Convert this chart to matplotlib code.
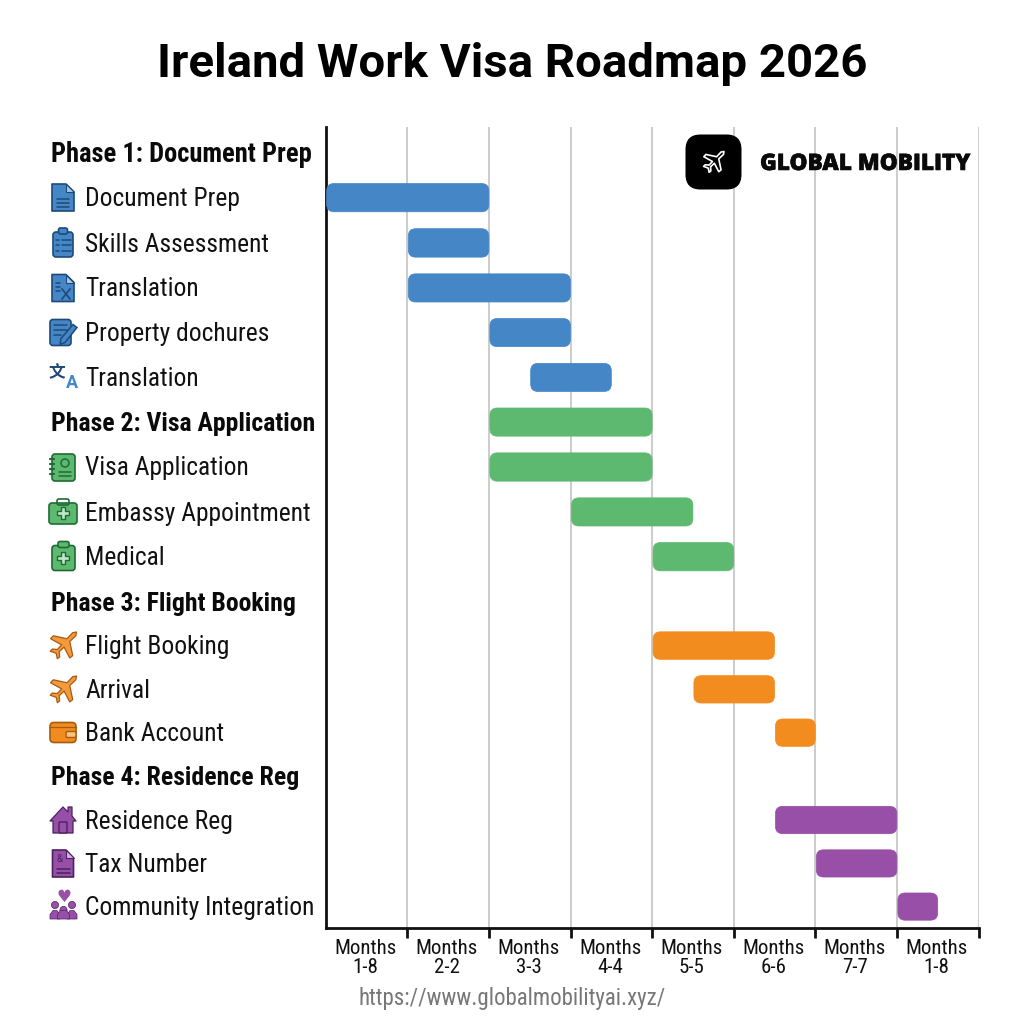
import numpy as np
import matplotlib
matplotlib.use("Agg")
import matplotlib.pyplot as plt
import matplotlib.patheffects as pe
from matplotlib.patches import FancyBboxPatch, Polygon, Circle
from matplotlib.ticker import NullLocator
from matplotlib import font_manager as fm

names = {f.name for f in fm.fontManager.ttflist}
FONT = next(n for n in ['Roboto Condensed', 'Barlow Semi Condensed', 'Sofia Sans Semi Condensed', 'Roboto'] if n in names)
plt.rcParams['font.family'] = [FONT, 'Roboto', 'DejaVu Sans']

title = "Ireland Work Visa Roadmap 2026"
row_labels = ["Phase 1: Document Prep", "Document Prep", "Skills Assessment", "Translation",
              "Property dochures", "Translation", "Phase 2: Visa Application", "Visa Application",
              "Embassy Appointment", "Medical", "Phase 3: Flight Booking", "Flight Booking", "Arrival",
              "Bank Account", "Phase 4: Residence Reg", "Residence Reg", "Tax Number", "Community Integration"]
phase_rows = [0, 6, 10, 14]
bar_rows = [1, 2, 3, 4, 5, 6, 7, 8, 9, 11, 12, 13, 15, 16, 17]
bar_start = [0, 1, 1, 2, 2.5, 2, 2, 3, 4, 4, 4.5, 5.5, 5.5, 6, 7]
bar_end = [2, 2, 3, 3, 3.5, 4, 4, 4.5, 5, 5.5, 5.5, 6, 7, 7, 7.5]
bar_group = [0, 0, 0, 0, 0, 1, 1, 1, 1, 2, 2, 2, 3, 3, 3]
group_colors = ["#4586c6", "#5db96f", "#f28c1e", "#984fa8"]
icon_dark = ["#1d4a78", "#1f6b35", "#a85a10", "#4a2260"]
tick_labels = ["Months\n1-8", "Months\n2-2", "Months\n3-3", "Months\n4-4",
               "Months\n5-5", "Months\n6-6", "Months\n7-7", "Months\n1-8"]
footer = "https://www.globalmobilityai.xyz/"
logo_text = "GLOBAL MOBILITY"

row_px = [153, 197.5, 243, 288, 332.5, 377.5, 422, 467, 512, 556.5, 602, 645.5, 689.5, 732.5, 776.5, 820, 863.5, 906.5]
anchor_idx = np.arange(-4, 23)
anchor_px = np.r_[[153 - 45 * k for k in (4, 3, 2, 1)], row_px, [906.5 + 43.5 * k for k in (1, 2, 3, 4, 5)]]

fig = plt.figure(figsize=(10.24, 10.24), dpi=100, facecolor='white')
S = 1024.0
UNIT = 81.6
X_LEFT = 326.3
ax = fig.add_axes([X_LEFT / S, 1 - 928 / S, (978.5 - X_LEFT) / S, 801 / S])
ax.set_xlim(8 - (978.5 - X_LEFT) / UNIT, 8)
def fwd(r):
    return np.interp(r, anchor_idx, anchor_px)
def inv(p):
    return np.interp(p, anchor_px, anchor_idx)
ax.set_yscale('function', functions=(fwd, inv))
ax.set_ylim(float(inv(928.0)), float(inv(127.0)))
ax.yaxis.set_major_locator(NullLocator())
ax.yaxis.set_minor_locator(NullLocator())
ax.set_xticks(np.arange(1, 9))
ax.set_xticklabels([])
ax.tick_params(axis='x', length=7, width=2, color='#111111')
ax.xaxis.grid(True, color='#c4c4c4', lw=1.2, zorder=0)
ax.set_axisbelow(True)
for s in ['top', 'right']:
    ax.spines[s].set_visible(False)
for s in ['left', 'bottom']:
    ax.spines[s].set_linewidth(2)
    ax.spines[s].set_color('#111111')

for r, a, b, g in zip(bar_rows, bar_start, bar_end, bar_group):
    hpx = 28
    unit_y = 44.5
    h = hpx / unit_y
    p = FancyBboxPatch((a + 0.012, r - h / 2), b - a - 0.012, h,
                       boxstyle="round,pad=0,rounding_size=0.09", mutation_aspect=UNIT / unit_y,
                       fc=group_colors[g], ec=group_colors[g], lw=0.5, zorder=3)
    ax.add_patch(p)

ov = fig.add_axes([0, 0, 1, 1], facecolor='none')
ov.set_xlim(0, S); ov.set_ylim(S, 0); ov.axis('off')

ov.text(512, 64, title, ha='center', va='center', fontsize=34.1, fontweight='bold', family=['Roboto'], color='black')
for i, lab in enumerate(row_labels):
    if i in phase_rows:
        ov.text(51, row_px[i] + 1.5, lab, ha='left', va='center', fontsize=19.1 if i == 0 else 18.5, fontweight='bold', color='#0a0a0a')
    else:
        ov.text(85, row_px[i] + 1.5, lab, ha='left', va='center', fontsize=18.4, color='#111111')
for i, t in enumerate(tick_labels):
    ov.text(365.3 + UNIT * i, 958, t, ha='center', va='center', fontsize=15, linespacing=1.0, color='#111111')
ov.text(512, 998, footer, ha='center', va='center', fontsize=16.5, color='#777777')
ov.text(865, 164, logo_text, ha='center', va='center', fontsize=16.3, fontweight=800, family=['Open Sans'], color='#0a0a0a',
        path_effects=[pe.withStroke(linewidth=0.4, foreground='#0a0a0a')], zorder=6)
ov.add_patch(FancyBboxPatch((685.5, 134.5), 56, 55, boxstyle="round,pad=0,rounding_size=15", fc='black', ec='none'))

PLANE = np.array([[1.0, -1.0], [0.72, -0.95], [0.3, -0.5], [-0.72, -0.72], [-0.92, -0.5], [-0.1, -0.05],
                  [-0.42, 0.3], [-0.78, 0.26], [-0.95, 0.42], [-0.5, 0.58], [-0.42, 0.98], [-0.25, 0.85], [-0.28, 0.46],
                  [0.08, 0.12], [0.5, 0.92], [0.72, 0.75], [0.5, -0.3], [0.95, -0.72]])

def doc(cx, cy, fc, ec, w=11, h=13.5, fold='#a9c8e6'):
    pts = [[cx - w, cy - h], [cx + 3, cy - h], [cx + w, cy - h + 8], [cx + w, cy + h], [cx - w, cy + h]]
    ov.add_patch(Polygon(pts, closed=True, fc=fc, ec=ec, lw=1.2, joinstyle='round', zorder=5))
    ov.add_patch(Polygon([[cx + 3, cy - h], [cx + 3, cy - h + 8], [cx + w, cy - h + 8]], closed=True, fc=fold, ec=ec, lw=0.8, zorder=6))

def lines(x0, x1, ys, ec, lw=1.1):
    for y in ys:
        ov.plot([x0, x1], [y, y], color=ec, lw=lw, zorder=7, solid_capstyle='round')

def plane(cx, cy, r, fc, ec):
    ov.add_patch(Polygon(PLANE * r + [cx, cy], closed=True, fc=fc, ec=ec, lw=0.9, joinstyle='round', zorder=5))

def rbox(x, y, w, h, fc, ec, r=3, lw=1.2, z=5):
    ov.add_patch(FancyBboxPatch((x, y), w, h, boxstyle=f"round,pad=0,rounding_size={r}", fc=fc, ec=ec, lw=lw, zorder=z))

B, BD = group_colors[0], icon_dark[0]
G, GD = group_colors[1], icon_dark[1]
O, OD = group_colors[2], icon_dark[2]
P, PD = group_colors[3], icon_dark[3]
ICX = 63

# blue icons
doc(ICX, row_px[1], B, BD); lines(57, 69, [row_px[1] + 1, row_px[1] + 5, row_px[1] + 9], BD)
rbox(53, row_px[2] - 11, 20, 25, B, BD)
rbox(58.5, row_px[2] - 15, 9, 6, B, BD, r=2, z=6)
lines(62, 71, [row_px[2] - 3, row_px[2] + 2, row_px[2] + 8], BD); lines(56, 59, [row_px[2] - 3, row_px[2] + 2, row_px[2] + 8], BD)
doc(ICX, row_px[3], B, BD); lines(56, 60, [row_px[3] - 5, row_px[3] - 1, row_px[3] + 3], BD)
ov.plot([62, 70], [row_px[3] + 1, row_px[3] + 11], color=BD, lw=1.2, zorder=7); ov.plot([70, 62], [row_px[3] + 1, row_px[3] + 11], color=BD, lw=1.2, zorder=7)
rbox(50, row_px[4] - 13, 21, 26, B, BD)
lines(54, 67, [row_px[4] - 8, row_px[4] - 3], BD); lines(54, 61, [row_px[4] + 2], BD)
ov.add_patch(Polygon([[60, row_px[4] + 12], [61, row_px[4] + 6], [73, row_px[4] - 8], [77, row_px[4] - 5], [65, row_px[4] + 10]], closed=True, fc=B, ec=BD, lw=1.1, zorder=7))
ov.text(57, row_px[5] - 5, "文", fontsize=12, fontweight='bold', family=['Noto Sans CJK SC'], ha='center', va='center', color=BD, zorder=6)
ov.text(71.5, row_px[5] + 5, "A", fontsize=13, fontweight='bold', family=['Roboto'], ha='center', va='center', color=B, zorder=6)

# green icons
y = row_px[7]
rbox(52, y - 13, 23, 27, G, GD)
ov.add_patch(Circle((65, y - 4), 4, fc=G, ec=GD, lw=1.1, zorder=7)); lines(59, 71, [y + 5, y + 9], GD)
lines(50, 54, [y - 8, y - 3, y + 2, y + 7], GD, lw=1.6)
for r_, top in ((8, True), (9, False)):
    y = row_px[r_]
    if top:
        rbox(49, y - 9, 28, 21, G, GD)
        rbox(57, y - 13, 12, 6, 'none', GD, r=2)
    else:
        rbox(52, y - 11, 23, 25, G, GD)
        rbox(58, y - 15, 11, 6, G, GD, r=2)
    ov.add_patch(Polygon([[x_ + 63, y + 1 + y_] for x_, y_ in [(-2, -6), (2, -6), (2, -2), (6, -2), (6, 2), (2, 2), (2, 6), (-2, 6), (-2, 2), (-6, 2), (-6, -2), (-2, -2)]], closed=True, fc='#bfe6c8', ec=GD, lw=1.0, zorder=7))

# orange icons
plane(63, row_px[11], 13.5, '#f29a3c', OD)
plane(63, row_px[12], 13.5, '#f29a3c', OD)
y = row_px[13]
rbox(50, y - 10, 26, 20, O, OD, r=4)
ov.plot([50, 76], [y - 6, y - 6], color=OD, lw=0.9, zorder=6)
rbox(66, y - 1, 10, 6, '#f6c27e', OD, r=1.5, lw=1.0, z=7)

# purple icons
y = row_px[15]
ov.add_patch(Polygon([[50, y + 1], [63, y - 13], [68, y - 8], [68, y - 13], [72, y - 13], [72, y - 4], [76, y + 1], [73, y + 1], [73, y + 13], [53, y + 13], [53, y + 1]], closed=True, fc=P, ec=PD, lw=0.9, joinstyle='round', zorder=5))
rbox(59, y + 2, 8, 11, P, PD, r=1, lw=1.0, z=6)
y = row_px[16]
doc(ICX, y, P, PD, w=10.5, h=13.5, fold='#d9b6e0'); lines(57, 70, [y + 5, y + 9], PD)
ov.text(60, y - 4, "&", fontsize=7, family=['Roboto'], ha='center', va='center', color=PD, zorder=8)
y = row_px[17]
ov.text(63.5, y - 10, "♥", fontsize=12, family=['DejaVu Sans'], ha='center', va='center', color=P, zorder=6)
for cx_, cy_ in ((55, y - 1.5), (72, y - 1.5), (63.5, y + 3.5)):
    ov.add_patch(Circle((cx_, cy_), 3.6, fc=P, ec=PD, lw=0.5, zorder=6))
for x0, w_ in ((50, 10), (67, 10), (57.5, 12)):
    ov.add_patch(Polygon([[x0, y + 12.5], [x0, y + 8], [x0 + 3, y + 4], [x0 + w_ - 3, y + 4], [x0 + w_, y + 8], [x0 + w_, y + 12.5]], closed=True, fc=P, ec=PD, lw=0.5, joinstyle='round', zorder=6))

# logo plane
ov.add_patch(Polygon(PLANE * 10.5 + [713.5, 162], closed=True, fc='none', ec='white', lw=1.2, joinstyle='round', zorder=6))

fig.savefig('out.png', dpi=100, facecolor='white')
